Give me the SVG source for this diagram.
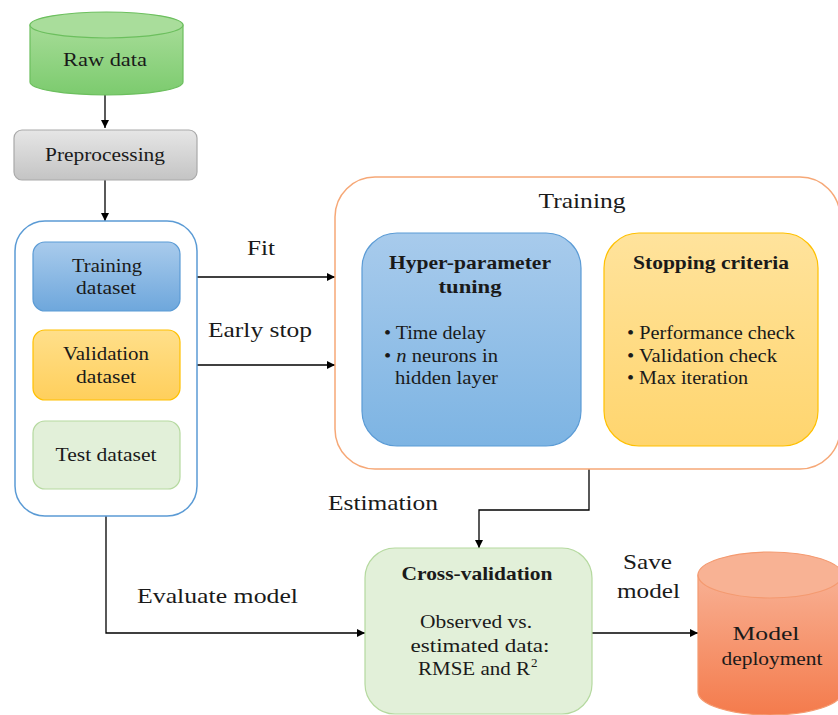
<svg xmlns="http://www.w3.org/2000/svg" width="838" height="715" viewBox="0 0 838 715">
<defs>
<linearGradient id="gGreen" x1="0" y1="0" x2="0" y2="1"><stop offset="0" stop-color="#a6dc97"/><stop offset="1" stop-color="#7ccb6e"/></linearGradient>
<linearGradient id="gGray" x1="0" y1="0" x2="0" y2="1"><stop offset="0" stop-color="#e6e6e6"/><stop offset="1" stop-color="#c4c4c4"/></linearGradient>
<linearGradient id="gBlue" x1="0" y1="0" x2="0" y2="1"><stop offset="0" stop-color="#a9cbec"/><stop offset="1" stop-color="#6ea7dc"/></linearGradient>
<linearGradient id="gBlue2" x1="0" y1="0" x2="0" y2="1"><stop offset="0" stop-color="#a8cbec"/><stop offset="1" stop-color="#7db4e3"/></linearGradient>
<linearGradient id="gYel" x1="0" y1="0" x2="0" y2="1"><stop offset="0" stop-color="#ffdf8a"/><stop offset="1" stop-color="#ffcf5c"/></linearGradient>
<linearGradient id="gYel2" x1="0" y1="0" x2="0" y2="1"><stop offset="0" stop-color="#ffe39c"/><stop offset="1" stop-color="#ffd56e"/></linearGradient>
<linearGradient id="gOr" x1="0" y1="0" x2="0" y2="1"><stop offset="0" stop-color="#f8b093"/><stop offset="1" stop-color="#f47b4c"/></linearGradient>
<marker id="arr" viewBox="0 0 10 10" refX="10" refY="5" markerWidth="8" markerHeight="8" markerUnits="userSpaceOnUse" orient="auto"><path d="M0,0 L10,5 L0,10 z" fill="#000"/></marker>
<style>
text{font-family:"Liberation Serif","DejaVu Serif",serif;fill:#1a1a1a;}
.n{font-size:19px;text-anchor:middle;}
.l{font-size:22px;}
.c{text-anchor:middle;}
.b{font-weight:bold;font-size:19px;}
.t{font-size:19px;}
.con{fill:none;stroke:#000;stroke-width:1.3;}
</style>
</defs>

<g id="connectors">
<path class="con" d="M105,95 L105,128" marker-end="url(#arr)"/>
<path class="con" d="M105,180 L105,221" marker-end="url(#arr)"/>
<path class="con" d="M180,277 L335,277" marker-end="url(#arr)"/>
<path class="con" d="M180,365 L335,365" marker-end="url(#arr)"/>
<path class="con" d="M589,469 L589,510 L479,510 L479,548" marker-end="url(#arr)"/>
<path class="con" d="M106,489 L106,633 L365,633" marker-end="url(#arr)"/>
<path class="con" d="M592,633 L698,633" marker-end="url(#arr)"/>
<text class="l" x="247" y="255" textLength="28" lengthAdjust="spacingAndGlyphs">Fit</text>
<text class="l" x="208" y="337" textLength="104" lengthAdjust="spacingAndGlyphs">Early stop</text>
<text class="l" x="328" y="510" textLength="110" lengthAdjust="spacingAndGlyphs">Estimation</text>
<text class="l" x="137" y="603" textLength="161" lengthAdjust="spacingAndGlyphs">Evaluate model</text>
<text class="l" x="623" y="569" textLength="49" lengthAdjust="spacingAndGlyphs">Save</text>
<text class="l" x="617" y="598" textLength="63" lengthAdjust="spacingAndGlyphs">model</text>
</g>

<g id="raw-data">
<path d="M30,25 L30,82 A76.5,13 0 0 0 183,82 L183,25 Z" fill="url(#gGreen)" stroke="#6cbf5e" stroke-width="1.2"/>
<ellipse cx="106.5" cy="25" rx="76.5" ry="13" fill="#a9dd9b" stroke="#6cbf5e" stroke-width="1.2"/>
<text class="n" x="105" y="66" textLength="84" lengthAdjust="spacingAndGlyphs">Raw data</text>
</g>

<g id="preprocessing">
<rect x="14" y="130" width="183" height="50" rx="8" fill="url(#gGray)" stroke="#a9a9a9" stroke-width="1.2"/>
<text class="n" x="105" y="161" textLength="120" lengthAdjust="spacingAndGlyphs">Preprocessing</text>
</g>

<g id="datasets">
<rect x="15" y="221" width="182" height="295" rx="30" fill="#fff" stroke="#5b9bd5" stroke-width="1.5"/>
</g>

<g id="training-dataset">
<rect x="33" y="242" width="147" height="69" rx="12" fill="url(#gBlue)" stroke="#5b9bd5" stroke-width="1.2"/>
<text class="n" x="107" y="272" textLength="70" lengthAdjust="spacingAndGlyphs">Training</text>
<text class="n" x="106" y="294" textLength="60" lengthAdjust="spacingAndGlyphs">dataset</text>
</g>

<g id="validation-dataset">
<rect x="33" y="330" width="147" height="70" rx="12" fill="url(#gYel)" stroke="#ffc000" stroke-width="1.2"/>
<text class="n" x="106" y="360" textLength="86" lengthAdjust="spacingAndGlyphs">Validation</text>
<text class="n" x="106" y="383" textLength="60" lengthAdjust="spacingAndGlyphs">dataset</text>
</g>

<g id="test-dataset">
<rect x="33" y="421" width="147" height="68" rx="12" fill="#e2f0d9" stroke="#b5d99f" stroke-width="1.2"/>
<text class="n" x="106" y="461" textLength="101" lengthAdjust="spacingAndGlyphs">Test dataset</text>
</g>

<g id="training">
<rect x="335" y="177" width="505" height="292" rx="40" fill="#fff" stroke="#f6a877" stroke-width="1.5"/>
<text class="l c" x="582" y="208" textLength="87" lengthAdjust="spacingAndGlyphs">Training</text>
</g>

<g id="hyper-parameter">
<rect x="362" y="233" width="219" height="213" rx="35" fill="url(#gBlue2)" stroke="#5b9bd5" stroke-width="1.2"/>
<text class="b c" x="470" y="269" textLength="162" lengthAdjust="spacingAndGlyphs">Hyper-parameter</text>
<text class="b c" x="470" y="293" textLength="63" lengthAdjust="spacingAndGlyphs">tuning</text>
<text class="t" x="384" y="339" textLength="102" lengthAdjust="spacingAndGlyphs">• Time delay</text>
<text class="t" x="384" y="362" textLength="114" lengthAdjust="spacingAndGlyphs">• <tspan font-style="italic">n</tspan> neurons in</text>
<text class="t" x="395" y="384" textLength="103" lengthAdjust="spacingAndGlyphs">hidden layer</text>
</g>

<g id="stopping-criteria">
<rect x="604" y="233" width="214" height="213" rx="35" fill="url(#gYel2)" stroke="#ffc000" stroke-width="1.2"/>
<text class="b c" x="711" y="269" textLength="156" lengthAdjust="spacingAndGlyphs">Stopping criteria</text>
<text class="t" x="627" y="339" textLength="168" lengthAdjust="spacingAndGlyphs">• Performance check</text>
<text class="t" x="627" y="362" textLength="150" lengthAdjust="spacingAndGlyphs">• Validation check</text>
<text class="t" x="627" y="384" textLength="121" lengthAdjust="spacingAndGlyphs">• Max iteration</text>
</g>

<g id="cross-validation">
<rect x="365" y="548" width="227" height="166" rx="30" fill="#e2f0d9" stroke="#b5d99f" stroke-width="1.2"/>
<text class="b c" x="477" y="580" textLength="151" lengthAdjust="spacingAndGlyphs">Cross-validation</text>
<text class="n" x="476" y="628" textLength="112" lengthAdjust="spacingAndGlyphs">Observed vs.</text>
<text class="n" x="480" y="652" textLength="139" lengthAdjust="spacingAndGlyphs">estimated data:</text>
<text class="t" x="418" y="675" textLength="112" lengthAdjust="spacingAndGlyphs">RMSE and R</text>
<text x="531" y="667" font-size="13">2</text>
</g>

<g id="model-deployment">
<path d="M698,575 L698,692 A72,23 0 0 0 842,692 L842,575 Z" fill="url(#gOr)" stroke="#f49a70" stroke-width="1.2"/>
<ellipse cx="770" cy="575" rx="72" ry="23" fill="#f8b294" stroke="#f49a70" stroke-width="1.2"/>
<text class="n" x="766" y="640" textLength="67" lengthAdjust="spacingAndGlyphs">Model</text>
<text class="n" x="772" y="665" textLength="101" lengthAdjust="spacingAndGlyphs">deployment</text>
</g>
</svg>
